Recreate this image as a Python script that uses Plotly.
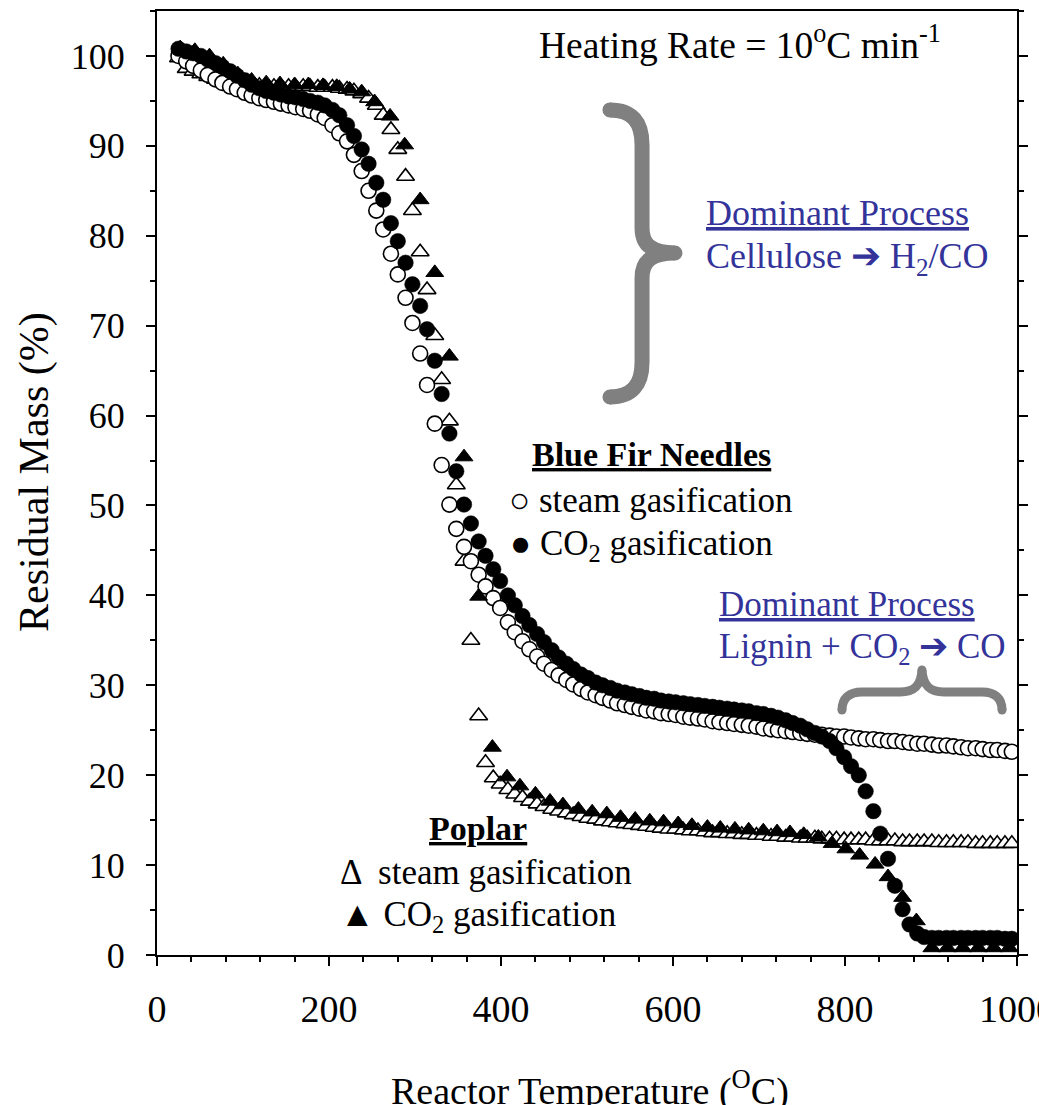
import plotly.graph_objects as go

# ---------------- data ----------------
# shared temperature grid for the densely sampled series (deg C)
T_GRID = [25, 34, 42, 51, 59, 68, 76, 85, 93, 102, 110, 119, 127, 136, 144, 153, 161, 170, 178, 187,
          195, 204, 212, 221, 229, 238, 246, 255, 263, 272, 280, 289, 297, 306, 314, 323, 331, 340, 348, 357,
          365, 374, 382, 391, 399, 408, 416, 425, 433, 442, 450, 459, 467, 476, 484, 493, 501, 510, 518, 527,
          535, 544, 552, 561, 569, 578, 586, 595, 603, 612, 620, 629, 637, 646, 654, 663, 671, 680, 688, 697,
          705, 714, 722, 731, 739, 748, 756, 765, 773, 782, 790, 799, 807, 816, 824, 833, 841, 850, 858, 867,
          875, 884, 892, 901, 909, 918, 926, 935, 943, 952, 960, 969, 977, 986, 994]

FIR_STEAM = [100.0, 99.4, 98.9, 98.4, 97.9, 97.4, 97.0, 96.6, 96.3, 95.9, 95.6, 95.3, 95.1, 94.9, 94.7, 94.5, 94.3, 94.1, 93.9, 93.5,
             93.1, 92.3, 91.4, 90.5, 89.0, 87.2, 85.0, 82.8, 80.7, 78.0, 75.7, 73.1, 70.3, 66.9, 63.4, 59.1, 54.5, 50.1, 47.4, 45.4,
             43.8, 42.3, 41.0, 39.7, 38.6, 37.0, 35.9, 34.9, 34.0, 33.2, 32.4, 31.7, 31.1, 30.6, 30.1, 29.6, 29.2, 28.9, 28.6, 28.3,
             28.0, 27.8, 27.6, 27.4, 27.2, 27.1, 26.9, 26.8, 26.7, 26.5, 26.4, 26.3, 26.2, 26.0, 25.9, 25.8, 25.7, 25.6, 25.5, 25.4,
             25.2, 25.1, 25.0, 24.9, 24.8, 24.7, 24.6, 24.5, 24.5, 24.4, 24.3, 24.3, 24.2, 24.1, 24.0, 24.0, 23.9, 23.8, 23.8, 23.7,
             23.6, 23.5, 23.5, 23.4, 23.3, 23.3, 23.2, 23.1, 23.0, 23.0, 22.9, 22.8, 22.8, 22.7, 22.6]

FIR_CO2 = [100.8, 100.5, 100.3, 100.0, 99.6, 99.2, 98.8, 98.3, 97.8, 97.3, 96.8, 96.4, 96.1, 95.9, 95.7, 95.5, 95.4, 95.2, 95.0, 94.8,
           94.5, 94.0, 93.4, 92.3, 91.1, 89.6, 88.0, 85.9, 84.0, 81.4, 79.4, 77.0, 74.6, 72.2, 69.6, 66.1, 62.4, 58.0, 53.8, 50.1,
           48.0, 46.0, 44.4, 42.9, 41.6, 40.0, 38.9, 37.7, 36.7, 35.7, 34.8, 33.9, 33.1, 32.4, 31.8, 31.2, 30.8, 30.3, 30.0, 29.7,
           29.4, 29.2, 29.0, 28.8, 28.6, 28.5, 28.3, 28.2, 28.1, 28.0, 27.9, 27.8, 27.7, 27.6, 27.5, 27.4, 27.3, 27.2, 27.1, 26.9,
           26.8, 26.6, 26.4, 26.1, 25.8, 25.5, 25.1, 24.7, 24.3, 23.8, 23.0, 22.0, 21.0, 20.0, 18.2, 16.0, 13.5, 10.7, 7.7, 5.1,
           3.4, 2.4, 2.0, 1.9, 1.9, 1.9, 1.9, 1.9, 1.9, 1.9, 1.9, 1.9, 1.9, 1.8, 1.8]

POPLAR_STEAM = [99.8, 98.6, 98.3, 98.0, 97.7, 97.4, 97.1, 96.9, 96.8, 96.7, 96.7, 96.7, 96.6, 96.6, 96.6, 96.6, 96.6, 96.6, 96.6, 96.5,
                96.5, 96.5, 96.4, 96.3, 96.1, 95.8, 95.3, 94.5, 93.4, 91.8, 89.6, 86.6, 82.8, 78.2, 74.0, 68.9, 64.0, 59.4, 52.3, 43.8,
                35.0, 26.6, 21.4, 19.7, 19.0, 18.4, 17.9, 17.5, 17.1, 16.8, 16.5, 16.2, 16.0, 15.8, 15.6, 15.4, 15.2, 15.1, 14.9, 14.8,
                14.7, 14.6, 14.5, 14.4, 14.3, 14.2, 14.1, 14.0, 14.0, 13.9, 13.8, 13.8, 13.7, 13.6, 13.6, 13.5, 13.5, 13.4, 13.4, 13.3,
                13.3, 13.2, 13.2, 13.1, 13.1, 13.0, 13.0, 13.0, 12.9, 12.9, 12.9, 12.8, 12.8, 12.8, 12.8, 12.7, 12.7, 12.7, 12.7, 12.6,
                12.6, 12.6, 12.6, 12.6, 12.5, 12.5, 12.5, 12.5, 12.5, 12.4, 12.4, 12.4, 12.4, 12.4, 12.4]

# poplar CO2 series is sampled more sparsely
T_POPLAR_CO2 = [27, 44, 61, 77, 94, 110, 127, 143, 160, 176, 193, 209, 224, 238, 253, 271, 288, 306, 323, 340,
                357, 374, 390, 407, 422, 440, 457, 472, 490, 506, 523, 539, 556, 573, 589, 606, 622, 640, 655, 672,
                688, 705, 721, 736, 752, 769, 785, 801, 817, 835, 850, 867, 883, 901, 919, 937, 955, 973, 991]
POPLAR_CO2 = [100.9, 100.6, 100.0, 99.1, 98.0, 97.3, 97.0, 96.9, 96.8, 96.8, 96.7, 96.6, 96.3, 96.0, 94.9, 93.3, 90.1, 84.0, 75.9, 66.6,
              55.4, 39.9, 23.1, 19.8, 18.8, 17.9, 17.1, 16.7, 16.2, 15.9, 15.7, 15.3, 15.1, 14.9, 14.8, 14.6, 14.4, 14.2, 14.1, 14.0,
              13.9, 13.8, 13.7, 13.6, 13.4, 13.1, 12.4, 11.8, 11.1, 10.1, 8.7, 6.4, 3.8, 0.8, 0.8, 0.8, 0.8, 0.8, 0.8]

X_TICKS = [0, 200, 400, 600, 800, 1000]
Y_TICKS = [0, 10, 20, 30, 40, 50, 60, 70, 80, 90, 100]

FONT = "Liberation Serif"
BLUE = "#33339a"
GRAY = "#808080"

fig = go.Figure()

fig.add_trace(go.Scatter(x=T_GRID, y=POPLAR_STEAM, mode="markers", name="Poplar steam",
                         marker=dict(symbol="triangle-up", size=15.5, color="white",
                                     line=dict(color="black", width=1.6))))
fig.add_trace(go.Scatter(x=T_GRID, y=FIR_STEAM, mode="markers", name="Blue fir steam",
                         marker=dict(symbol="circle", size=15, color="white",
                                     line=dict(color="black", width=1.6))))
fig.add_trace(go.Scatter(x=T_POPLAR_CO2, y=POPLAR_CO2, mode="markers", name="Poplar CO2",
                         marker=dict(symbol="triangle-up", size=15.5, color="black",
                                     line=dict(color="black", width=1))))
fig.add_trace(go.Scatter(x=T_GRID, y=FIR_CO2, mode="markers", name="Blue fir CO2",
                         marker=dict(symbol="circle", size=15.5, color="black",
                                     line=dict(color="black", width=0.5))))

# ---------------- braces (decoration) ----------------
big_brace = ("M 526.7,94.0 C 552.3,94.0 564.0,92.66 564.0,90.1 L 564.0,80.87 "
             "C 564.0,78.98 575.6,78.09 602.3,78.09 C 575.6,78.09 564.0,77.2 564.0,75.31 "
             "L 564.0,65.96 C 564.0,63.4 552.3,62.07 526.7,62.07")
small_brace = ("M 796.5,27.25 C 796.5,28.59 804.7,29.25 819.8,29.25 L 864.0,29.25 "
               "C 880.2,29.25 888.4,29.92 889.5,31.7 C 890.7,29.92 898.8,29.25 915.1,29.25 "
               "L 959.3,29.25 C 974.4,29.25 982.6,28.59 982.6,27.25")
shapes = [
    dict(type="path", path=big_brace, xref="x", yref="y", line=dict(color=GRAY, width=15)),
    dict(type="path", path=small_brace, xref="x", yref="y", line=dict(color=GRAY, width=9)),
]
for (cx, cy, r) in [(526.7, 94.0, 7.5), (526.7, 62.07, 7.5), (602.3, 78.09, 7.5),
                    (796.5, 27.25, 4.5), (982.6, 27.25, 4.5), (889.5, 31.7, 4.5)]:
    shapes.append(dict(type="circle", xref="x", yref="y", xsizemode="pixel", ysizemode="pixel",
                       xanchor=cx, yanchor=cy, x0=-r, x1=r, y0=-r, y1=r,
                       fillcolor=GRAY, line=dict(width=0)))

def ann(text, x, y, size=34, color="black", xanchor="left", textangle=0):
    return dict(text=text, x=x, y=y, xref="paper", yref="paper", xanchor=xanchor, yanchor="middle",
                showarrow=False, textangle=textangle, font=dict(family=FONT, size=size, color=color))

annotations = [
    ann("Heating Rate = 10<sup>o</sup>C min<sup>-1</sup>", 0.4419, 0.967, size=37.5),
    ann("<u>Dominant Process</u>", 0.636, 0.786, size=36, color=BLUE),
    ann("Cellulose ➔ H<sub>2</sub>/CO", 0.636, 0.738, size=36, color=BLUE),
    ann("<b><u>Blue Fir Needles</u></b>", 0.4337, 0.5297, size=34),
    ann("○ steam gasification", 0.407, 0.481, size=35),
    ann("● CO<sub>2</sub> gasification", 0.408, 0.4333, size=35),
    ann("<u>Dominant Process</u>", 0.651, 0.3718, size=35, color=BLUE),
    ann("Lignin + CO<sub>2</sub> ➔ CO", 0.651, 0.3252, size=35, color=BLUE),
    ann("<b><u>Poplar</u></b>", 0.314, 0.1345, size=34),
    ann("Δ  steam gasification", 0.2105, 0.0879, size=35),
    ann("▲ CO<sub>2</sub> gasification", 0.2105, 0.0413, size=35),
    ann("Residual Mass (%)", -0.1419, 0.5117, size=42, xanchor="center", textangle=-90),
    ann("Reactor Temperature (<sup>O</sup>C)", 0.5035, -0.1409, size=38, xanchor="center"),
]

fig.update_layout(
    template="none",
    width=1039, height=1105,
    margin=dict(l=157, r=22, t=11, b=150, pad=0),
    paper_bgcolor="white", plot_bgcolor="white",
    font=dict(family=FONT, size=34, color="black"),
    showlegend=False,
    shapes=shapes,
    annotations=annotations,
    xaxis=dict(range=[0, 1000], tickvals=X_TICKS, ticktext=[str(v) for v in X_TICKS],
               showgrid=False, zeroline=False, showline=True, linecolor="black", linewidth=2,
               mirror=True, ticks="outside", ticklen=9, tickwidth=2, tickcolor="black",
               tickfont=dict(family=FONT, size=38), ticklabelstandoff=10, automargin=False,
               ticklabeloverflow="allow",
               minor=dict(dtick=40, tick0=0, ticks="outside", ticklen=5, tickwidth=2, tickcolor="black")),
    yaxis=dict(range=[0, 105], tickvals=Y_TICKS, ticktext=[str(v) for v in Y_TICKS],
               showgrid=False, zeroline=False, showline=True, linecolor="black", linewidth=2,
               mirror="allticks", ticks="outside", ticklen=9, tickwidth=2, tickcolor="black",
               tickfont=dict(family=FONT, size=36), ticklabelstandoff=14, automargin=False,
               minor=dict(dtick=5, tick0=0, ticks="outside", ticklen=5, tickwidth=2, tickcolor="black")),
)

fig.write_html("out.html")
